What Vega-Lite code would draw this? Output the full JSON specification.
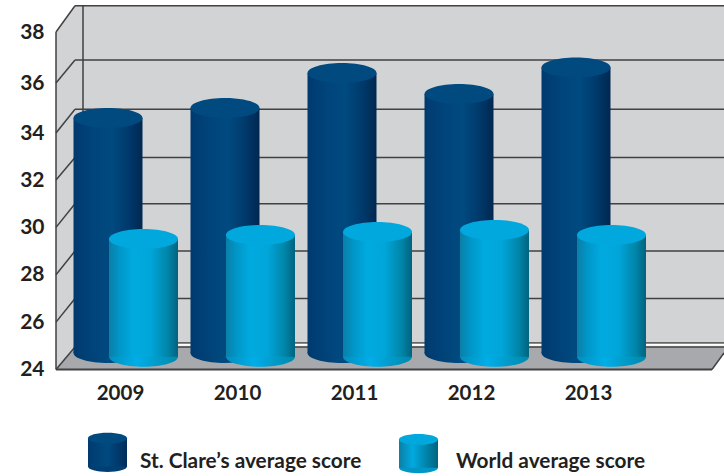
{
"$schema":"https://vega.github.io/schema/vega-lite/v6.json",
"width":668,"height":364.5,"autosize":"none",
"padding":{"left":56,"top":5,"right":0,"bottom":106.5},
"background":"white",
"config":{"view":{"stroke":null},"axis":{"title":null,"domain":false,"ticks":false,"grid":false,"labelFont":"Lato","labelFontWeight":"bold","labelColor":"#231f20"}},
"datasets":{
"bars":[
{"year":2009,"series":"St. Clare’s average score","score":34.6,"base":24.7},
{"year":2010,"series":"St. Clare’s average score","score":35.0,"base":24.7},
{"year":2011,"series":"St. Clare’s average score","score":36.39,"base":24.7},
{"year":2012,"series":"St. Clare’s average score","score":35.56,"base":24.7},
{"year":2013,"series":"St. Clare’s average score","score":36.61,"base":24.7},
{"year":2009,"series":"World average score","score":29.51,"base":24.54},
{"year":2010,"series":"World average score","score":29.68,"base":24.54},
{"year":2011,"series":"World average score","score":29.8,"base":24.54},
{"year":2012,"series":"World average score","score":29.89,"base":24.54},
{"year":2013,"series":"World average score","score":29.68,"base":24.54}],
"grid":[
{"score":24,"back":24.95},{"score":26,"back":27.0},{"score":28,"back":29.0},{"score":30,"back":31.0},
{"score":32,"back":32.96},{"score":34,"back":34.95},{"score":36,"back":36.9},{"score":38,"back":39.07}],
"side":[{"pos":2008.4701,"top":38,"bottom":24},{"pos":2008.6325,"top":39.07,"bottom":24.95}],
"floor":[{"pos":2008.4701,"top":24,"bottom":24},{"pos":2008.6325,"top":24.95,"bottom":24},{"pos":2014.0769,"top":24.95,"bottom":24},{"pos":2014.1795,"top":24.95,"bottom":24.7}],
"one":[{"n":1}],
"legend":[{"series":"St. Clare’s average score"},{"series":"World average score"}]
},
"layer":[
{"data":{"name":"one"},"mark":{"type":"rect","color":"#d1d3d4"},
 "encoding":{
  "x":{"datum":2008.6325,"type":"quantitative","scale":{"domain":[2008.4701,2014.1795],"nice":false,"zero":false,"padding":0},"axis":{"values":[2009,2010,2011,2012,2013],"format":"d","labelFontSize":20.5,"labelPadding":14,"labelOffset":2,"labelAngle":0}},
  "x2":{"datum":2014.1795},
  "y":{"datum":39.07,"type":"quantitative","scale":{"domain":[24,32,34,36,38,39.1],"range":[364.5,175,128,78,27,0],"nice":false,"zero":false},"axis":{"values":[24,26,28,30,32,34,36,38],"labelFontSize":21,"labelPadding":12}},
  "y2":{"datum":24.95}}},
{"data":{"name":"side"},"mark":{"type":"area","color":"#d1d3d4"},
 "encoding":{"x":{"field":"pos","type":"quantitative"},"y":{"field":"top","type":"quantitative"},"y2":{"field":"bottom"}}},
{"data":{"name":"floor"},"mark":{"type":"area","color":"#a7a9ac"},
 "encoding":{"x":{"field":"pos","type":"quantitative"},"y":{"field":"top","type":"quantitative"},"y2":{"field":"bottom"}}},
{"data":{"name":"grid"},"transform":[{"filter":"datum.score>24"}],"mark":{"type":"rule","color":"#414042","strokeWidth":1.5},
 "encoding":{"x":{"datum":2008.6325},"x2":{"datum":2014.1795},"y":{"field":"back","type":"quantitative"}}},
{"data":{"name":"grid"},"mark":{"type":"rule","color":"#414042","strokeWidth":1.5},
 "encoding":{"x":{"datum":2008.4701},"x2":{"datum":2008.6325},"y":{"field":"score","type":"quantitative"},"y2":{"field":"back"}}},
{"data":{"name":"one"},"layer":[
 {"mark":{"type":"rule","color":"#414042","strokeWidth":1.5},"encoding":{"x":{"datum":2008.4701},"y":{"datum":24},"y2":{"datum":38}}},
 {"mark":{"type":"rule","color":"#414042","strokeWidth":1.5},"encoding":{"x":{"datum":2008.7009},"y":{"datum":25.12},"y2":{"datum":39.07}}},
 {"mark":{"type":"rule","color":"#414042","strokeWidth":1.5},"encoding":{"x":{"datum":2008.6325},"x2":{"datum":2014.1795},"y":{"datum":25.12}}},
 {"mark":{"type":"rule","color":"#ffffff","strokeWidth":2},"encoding":{"x":{"datum":2008.7009},"x2":{"datum":2014.1795},"y":{"datum":25.04}}},
 {"mark":{"type":"rule","color":"#414042","strokeWidth":1.5},"encoding":{"x":{"datum":2008.6325},"x2":{"datum":2014.1795},"y":{"datum":24.95}}},
 {"mark":{"type":"rule","color":"#414042","strokeWidth":2},"encoding":{"x":{"datum":2008.4701},"x2":{"datum":2014.0769},"y":{"datum":24}}},
 {"mark":{"type":"rule","color":"#414042","strokeWidth":1.5},"encoding":{"x":{"datum":2014.0769},"x2":{"datum":2014.1795},"y":{"datum":24},"y2":{"datum":24.7}}}
]},
{"data":{"name":"bars"},"transform":[{"filter":"datum.series=='St. Clare’s average score'"}],"encoding":{"x":{"field":"year","type":"quantitative"}},
 "layer":[
 {"mark":{"type":"point","shape":"M-1,0A1,0.29,0,1,1,1,0A1,0.29,0,1,1,-1,0Z","filled":true,"opacity":1,"size":4761,"xOffset":-10,"strokeWidth":0,"fill":{"gradient":"linear","x1":0,"x2":1,"y1":0,"y2":0,"stops":[{"offset":0,"color":"#003a6e"},{"offset":0.5,"color":"#004a80"},{"offset":1,"color":"#002c58"}]}},"encoding":{"y":{"field":"base","type":"quantitative"}}},
 {"mark":{"type":"bar","width":69,"xOffset":-10,"color":{"gradient":"linear","x1":0,"x2":1,"y1":0,"y2":0,"stops":[{"offset":0,"color":"#003a6e"},{"offset":0.3,"color":"#00457c"},{"offset":0.55,"color":"#004a80"},{"offset":0.8,"color":"#00396b"},{"offset":1,"color":"#002850"}]}},"encoding":{"y":{"field":"score","type":"quantitative"},"y2":{"field":"base"}}},
 {"mark":{"type":"point","shape":"M-1,0A1,0.29,0,1,1,1,0A1,0.29,0,1,1,-1,0Z","filled":true,"opacity":1,"size":4761,"xOffset":-10,"strokeWidth":0,"fill":"#004a80"},"encoding":{"y":{"field":"score","type":"quantitative"}}}
]},
{"data":{"name":"bars"},"transform":[{"filter":"datum.series=='World average score'"}],"encoding":{"x":{"field":"year","type":"quantitative"}},
 "layer":[
 {"mark":{"type":"point","shape":"M-1,0A1,0.29,0,1,1,1,0A1,0.29,0,1,1,-1,0Z","filled":true,"opacity":1,"size":4761,"xOffset":25.5,"strokeWidth":0,"fill":{"gradient":"linear","x1":0,"x2":1,"y1":0,"y2":0,"stops":[{"offset":0,"color":"#0090bf"},{"offset":0.4,"color":"#00aee8"},{"offset":1,"color":"#0088ab"}]}},"encoding":{"y":{"field":"base","type":"quantitative"}}},
 {"mark":{"type":"bar","width":69,"xOffset":25.5,"color":{"gradient":"linear","x1":0,"x2":1,"y1":0,"y2":0,"stops":[{"offset":0,"color":"#0b7fa6"},{"offset":0.15,"color":"#0096c8"},{"offset":0.35,"color":"#00aadf"},{"offset":0.6,"color":"#00a6da"},{"offset":0.85,"color":"#0085a9"},{"offset":1,"color":"#00637e"}]}},"encoding":{"y":{"field":"score","type":"quantitative"},"y2":{"field":"base"}}},
 {"mark":{"type":"point","shape":"M-1,0A1,0.29,0,1,1,1,0A1,0.29,0,1,1,-1,0Z","filled":true,"opacity":1,"size":4761,"xOffset":25.5,"strokeWidth":0,"fill":"#00a8de"},"encoding":{"y":{"field":"score","type":"quantitative"}}}
]},
{"data":{"name":"legend"},"transform":[{"filter":"datum.series=='St. Clare’s average score'"}],
 "layer":[
 {"mark":{"type":"point","shape":"M-1,0A1,0.28,0,1,1,1,0A1,0.28,0,1,1,-1,0Z","filled":true,"opacity":1,"size":1521,"strokeWidth":0,"fill":"#003f74"},"encoding":{"x":{"datum":2008.9103},"y":{"datum":19.9}}},
 {"mark":{"type":"bar","width":39,"color":{"gradient":"linear","x1":0,"x2":1,"y1":0,"y2":0,"stops":[{"offset":0,"color":"#003a6e"},{"offset":0.5,"color":"#004a80"},{"offset":1,"color":"#002c58"}]}},"encoding":{"x":{"datum":2008.9103},"y":{"datum":21.1},"y2":{"datum":19.9}}},
 {"mark":{"type":"point","shape":"M-1,0A1,0.28,0,1,1,1,0A1,0.28,0,1,1,-1,0Z","filled":true,"opacity":1,"size":1521,"strokeWidth":0,"fill":"#004a80"},"encoding":{"x":{"datum":2008.9103},"y":{"datum":21.1}}},
 {"mark":{"type":"text","align":"left","baseline":"alphabetic","font":"Lato","fontWeight":"bold","fontSize":20.8,"color":"#231f20"},"encoding":{"x":{"datum":2009.188},"y":{"datum":19.84},"text":{"field":"series"}}}
]},
{"data":{"name":"legend"},"transform":[{"filter":"datum.series=='World average score'"}],
 "layer":[
 {"mark":{"type":"point","shape":"M-1,0A1,0.28,0,1,1,1,0A1,0.28,0,1,1,-1,0Z","filled":true,"opacity":1,"size":1521,"strokeWidth":0,"fill":"#0096c8"},"encoding":{"x":{"datum":2011.5684},"y":{"datum":19.85}}},
 {"mark":{"type":"bar","width":39,"color":{"gradient":"linear","x1":0,"x2":1,"y1":0,"y2":0,"stops":[{"offset":0,"color":"#0b7fa6"},{"offset":0.35,"color":"#00aadf"},{"offset":1,"color":"#00637e"}]}},"encoding":{"x":{"datum":2011.5684},"y":{"datum":21.05},"y2":{"datum":19.85}}},
 {"mark":{"type":"point","shape":"M-1,0A1,0.28,0,1,1,1,0A1,0.28,0,1,1,-1,0Z","filled":true,"opacity":1,"size":1521,"strokeWidth":0,"fill":"#00a8de"},"encoding":{"x":{"datum":2011.5684},"y":{"datum":21.05}}},
 {"mark":{"type":"text","align":"left","baseline":"alphabetic","font":"Lato","fontWeight":"bold","fontSize":20.8,"color":"#231f20"},"encoding":{"x":{"datum":2011.889},"y":{"datum":19.84},"text":{"field":"series"}}}
]}
]}
